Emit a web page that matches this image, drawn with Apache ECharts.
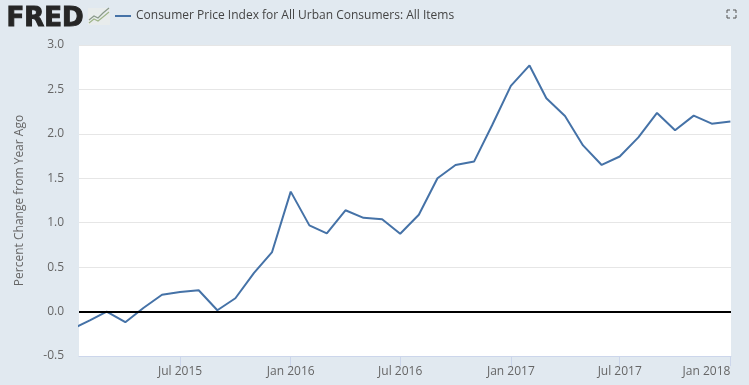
<!DOCTYPE html>
<html lang="en">

<head>
  <meta charset="UTF-8">
  <title>FRED CPI</title>
  <script src="https://cdn.jsdelivr.net/npm/echarts@6/dist/echarts.min.js"></script>
  <style>
    html, body { margin: 0; padding: 0; background: #e1e9f0; }
  </style>
</head>

<body>
  <div id="main" style="width: 749px;height:385px;"></div>
  <script>
    var seriesName = 'Consumer Price Index for All Urban Consumers: All Items';
    var yAxisName = 'Percent Change from Year Ago';

    // monthly (Jan 2015 sits left of the visible window)
    var months = [
      '2015-01', '2015-02', '2015-03', '2015-04', '2015-05', '2015-06', '2015-07', '2015-08', '2015-09', '2015-10', '2015-11', '2015-12',
      '2016-01', '2016-02', '2016-03', '2016-04', '2016-05', '2016-06', '2016-07', '2016-08', '2016-09', '2016-10', '2016-11', '2016-12',
      '2017-01', '2017-02', '2017-03', '2017-04', '2017-05', '2017-06', '2017-07', '2017-08', '2017-09', '2017-10', '2017-11', '2017-12',
      '2018-01'
    ];
    var values = [
      -0.2, -0.1, 0.0, -0.12, 0.04, 0.19, 0.22, 0.24, 0.015, 0.15, 0.435, 0.67,
      1.35, 0.97, 0.88, 1.14, 1.055, 1.04, 0.875, 1.09, 1.5, 1.65, 1.69, 2.1,
      2.54, 2.77, 2.4, 2.2, 1.87, 1.65, 1.745, 1.96, 2.235, 2.04, 2.205, 2.115,
      2.14
    ];
    var tickMonths = ['2015-07', '2016-01', '2016-07', '2017-01', '2017-07', '2018-01'];
    var tickLabels = ['Jul 2015', 'Jan 2016', 'Jul 2016', 'Jan 2017', 'Jul 2017', 'Jan 2018'];

    function toTime(month) {
      var p = month.split('-');
      return Date.UTC(+p[0], +p[1] - 1, 1);
    }

    var tickTimes = tickMonths.map(toTime);
    var font = '"Open Sans", sans-serif';

    var myChart = echarts.init(document.getElementById('main'));

    myChart.setOption({
      animation: false,
      backgroundColor: '#e1e9f0',
      grid: { left: 79, right: 18, top: 45, bottom: 29, outerBoundsMode: 'none' },
      legend: {
        left: 115,
        top: 10,
        padding: 0,
        itemWidth: 16,
        itemHeight: 2,
        itemGap: 0,
        icon: 'rect',
        textStyle: { fontFamily: font, fontSize: 12, color: '#444', padding: [0, 0, 0, 0] }
      },
      // value axis on timestamps, so the labels can sit on exact month starts
      xAxis: {
        type: 'value',
        min: Date.UTC(2015, 0, 14),
        max: Date.UTC(2018, 0, 2),
        splitLine: { show: false },
        axisLine: { onZero: false, lineStyle: { color: '#ccd6eb', width: 1 } },
        axisTick: { customValues: tickTimes, length: 10, lineStyle: { color: '#ccd6eb' } },
        axisLabel: {
          customValues: tickTimes,
          hideOverlap: false,
          alignMaxLabel: 'right',
          margin: 10,
          fontFamily: font,
          fontSize: 12,
          color: '#666',
          formatter: function (value) {
            return tickLabels[tickTimes.indexOf(value)];
          }
        }
      },
      yAxis: {
        type: 'value',
        min: -0.5,
        max: 3,
        interval: 0.5,
        name: yAxisName,
        nameLocation: 'middle',
        nameGap: 53,
        nameTextStyle: { fontFamily: font, fontSize: 12, color: '#666' },
        axisLine: { show: false },
        axisTick: { show: false },
        axisLabel: {
          margin: 15,
          padding: [3, 0, 0, 0],
          fontFamily: font,
          fontSize: 12,
          color: '#666',
          formatter: function (value) { return value.toFixed(1); }
        },
        splitLine: { lineStyle: { color: '#e6e6e6', width: 1 } },
        splitArea: { show: true, areaStyle: { color: ['#fff', '#fff'] } }
      },
      series: [
        {
          name: seriesName,
          type: 'line',
          symbol: 'none',
          color: '#4572a7',
          lineStyle: { width: 2 },
          data: months.map(function (m, i) { return [toTime(m), values[i]]; }),
          markLine: {
            silent: true,
            symbol: 'none',
            label: { show: false },
            lineStyle: { color: '#000', width: 2, type: 'solid' },
            data: [{ yAxis: 0 }]
          }
        }
      ],
      graphic: [
        // FRED wordmark and sparkline badge
        {
          type: 'text', left: 6, top: 6,
          style: { text: 'FRED', fontFamily: '"DejaVu Sans", sans-serif', fontWeight: 'bold', fontSize: 26, fill: '#262626', stroke: '#262626', lineWidth: 1 }
        },
        { type: 'rect', shape: { x: 88, y: 8, width: 22, height: 17 }, style: { fill: '#e8ecec' } },
        { type: 'polyline', shape: { points: [[89, 20], [94, 16], [98, 18], [103, 13], [109, 8]] }, style: { fill: null, stroke: '#8a9a8a', lineWidth: 1.2 } },
        { type: 'polyline', shape: { points: [[89, 23], [94, 19], [98, 21], [103, 17], [109, 12]] }, style: { fill: null, stroke: '#9fb58a', lineWidth: 1.2 } },
        // fullscreen corners
        { type: 'polyline', shape: { points: [[727, 13], [727, 10], [730, 10]] }, style: { fill: null, stroke: '#555', lineWidth: 1 } },
        { type: 'polyline', shape: { points: [[733, 10], [736, 10], [736, 13]] }, style: { fill: null, stroke: '#555', lineWidth: 1 } },
        { type: 'polyline', shape: { points: [[727, 15], [727, 18], [730, 18]] }, style: { fill: null, stroke: '#555', lineWidth: 1 } },
        { type: 'polyline', shape: { points: [[733, 18], [736, 18], [736, 15]] }, style: { fill: null, stroke: '#555', lineWidth: 1 } }
      ]
    });
  </script>
</body>

</html>
